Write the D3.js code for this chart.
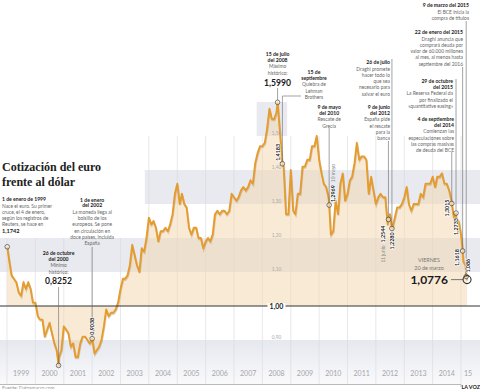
<!DOCTYPE html>
<html>
<head>
<meta charset="utf-8">
<script src="https://cdn.jsdelivr.net/npm/d3@7"></script>
<style>
body { margin: 0; background: #fff; }
svg { display: block; font-family: Lato, "Open Sans", sans-serif; }
.head { font-size: 5.1px; font-weight: 700; fill: #222; }
.body { font-size: 4.9px; fill: #666; }
</style>
</head>
<body>
<div id="vis-container"></div>
<script>
const width = 480,
    height = 389;

// cotización al 1 de cada mes, desde febrero de 1999
const monthStart = "1999-02-01";
const monthlyValues = [
  1.13, 1.09, 1.08, 1.07, 1.04, 1.03, 1.07, 1.05, 1.07, 1.05, 1.01,
  1.01, 0.97, 0.96, 0.96, 0.91, 0.93, 0.95, 0.92, 0.89, 0.87, 0.85, 0.87,
  0.94, 0.93, 0.92, 0.88, 0.89, 0.85, 0.85, 0.89, 0.91, 0.91, 0.90, 0.89,
  0.90, 0.86, 0.87, 0.88, 0.90, 0.94, 0.99, 0.97, 0.98, 0.98, 0.99, 1.01,
  1.05, 1.08, 1.08, 1.09, 1.12, 1.18, 1.15, 1.12, 1.10, 1.17, 1.16, 1.20,
  1.26, 1.24, 1.25, 1.23, 1.19, 1.22, 1.22, 1.23, 1.22, 1.24, 1.27, 1.33,
  1.36, 1.30, 1.33, 1.30, 1.29, 1.23, 1.21, 1.23, 1.23, 1.20, 1.20, 1.17,
  1.19, 1.20, 1.19, 1.21, 1.27, 1.28, 1.27, 1.28, 1.28, 1.27, 1.28, 1.33,
  1.32, 1.31, 1.32, 1.34, 1.35, 1.34, 1.35, 1.37, 1.36, 1.42, 1.45, 1.47,
  1.47, 1.48, 1.52, 1.58, 1.55, 1.55, 1.57, 1.55, 1.46, 1.41, 1.27, 1.27,
  1.40, 1.28, 1.27, 1.33, 1.33, 1.41, 1.41, 1.43, 1.43, 1.47, 1.47, 1.50,
  1.43, 1.39, 1.36, 1.35, 1.32, 1.21, 1.22, 1.31, 1.27, 1.36, 1.39, 1.31,
  1.33, 1.37, 1.38, 1.42, 1.48, 1.43, 1.44, 1.44, 1.43, 1.33, 1.38, 1.34,
  1.30, 1.32, 1.33, 1.32, 1.32, 1.24, 1.27, 1.23, 1.26, 1.29, 1.29, 1.30,
  1.32, 1.35, 1.30, 1.28, 1.30, 1.30, 1.30, 1.33, 1.32, 1.36, 1.36, 1.36,
  1.38, 1.35, 1.38, 1.38, 1.39, 1.36, 1.36, 1.34, 1.31, 1.26, 1.25, 1.25,
  1.21, 1.13, 1.12
];

// fechas señaladas
const eventDates = ["1999-01-04", "2000-10-26", "2002-01-01", "2008-07-15", "2008-09-15",
  "2010-05-10", "2012-06-11", "2012-07-26", "2014-09-04", "2014-10-29",
  "2015-01-22", "2015-03-09", "2015-03-20"];
const eventValues = [1.1742, 0.8252, 0.9038, 1.5990, 1.4183, 1.2969, 1.2544, 1.2280,
  1.3015, 1.2733, 1.1618, 1.0866, 1.0776];
const eventLabels = ["1,1742", "0,8252", "0,9038", "1,5990", "1,4183", "1,2969", "1,2544",
  "1,2280", "1,3015", "1,2733", "1,1618", "1,086", "1,0776"];
const eventNotes = ["", "", "", "", "", "10 mayo", "11 junio", "", "", "", "", "", ""];

const yearLabels = ["1999", "2000", "2001", "2002", "2003", "2004", "2005", "2006",
  "2007", "2008", "2009", "2010", "2011", "2012", "2013", "2014", "15"];
const levelTicks = [0.9, 1.1, 1.2, 1.3, 1.4, 1.5];
const levelLabels = ["0,90", "1,10", "1,20", "1,30", "1,40", "1,50"];

const bandLow = [1.1, 1.3, 1.5];
const bandStart = ["1998-10-01", "2003-11-10", "2007-10-20"];
const bandEnd = ["2016-06-01", "2016-06-01", "2008-11-15"];

const notes = [
  { ev: 0, head: ["1 de enero de 1999"], body: ["Nace el euro. Su primer", "cruce, el 4 de enero,", "según los registros de", "Reuters, se hace en"], big: "1,1742" },
  { ev: 1, head: ["26 de octubre", "del 2000"], body: ["Mínimo", "histórico:"], big: "0,8252" },
  { ev: 2, head: ["1 de enero", "del 2002"], body: ["La moneda llega al", "bolsillo de los", "europeos. Se pone", "en circulación en", "doce países, incluida", "España"] },
  { ev: 3, head: ["15 de julio", "del 2008"], body: ["Máximo", "histórico:"], big: "1,5990" },
  { ev: 4, head: ["15 de", "septiembre"], body: ["Quiebra de", "Lehman", "Brothers"] },
  { ev: 5, head: ["9 de mayo", "del 2010"], body: ["Rescate de", "Grecia"] },
  { ev: 7, head: ["26 de julio"], body: ["Draghi promete", "hacer todo lo", "que sea", "necesario para", "salvar el euro"] },
  { ev: 6, head: ["9 de junio", "del 2012"], body: ["España pide", "el rescate", "para la", "banca"] },
  { ev: 8, head: ["4 de septiembre", "del 2014"], body: ["Comienzan las", "especulaciones sobre", "las compras masivas", "de deuda del BCE"] },
  { ev: 9, head: ["29 de octubre", "del 2015"], body: ["La Reserva Federal da", "por finalizado el", "«quantitative easing»"] },
  { ev: 10, head: ["22 de enero del 2015"], body: ["Draghi anuncia que", "comprará deuda por", "valor de 60.000 millones", "al mes, al menos hasta", "septiembre del 2016"] },
  { ev: 11, head: ["9 de marzo del 2015"], body: ["El BCE inicia la", "compra de títulos"] }
];

// posición de cada bloque de texto
const noteLayout = [
  { x: 2, anchor: "start", top: 201, bigSize: 5.6, bigGap: 7, stem: null },
  { x: null, anchor: "middle", top: 255, bigSize: 8.6, bigGap: 10, stem: 287 },
  { x: null, anchor: "middle", top: 201.5, stem: 247 },
  { x: null, anchor: "middle", top: 56, bigSize: 8.6, bigGap: 11.5, stem: 88 },
  { x: 314, anchor: "middle", top: 74, stem: null },
  { x: null, anchor: "middle", top: 109, stem: 128 },
  { x: 390, anchor: "end", top: 64, stem: 59 },
  { x: 390, anchor: "end", top: 109, stem: 141 },
  { x: 454, anchor: "end", top: 121, stem: 152 },
  { x: 453, anchor: "end", top: 83, stem: 79 },
  { x: 463, anchor: "end", top: 34, stem: 67 },
  { x: 469, anchor: "end", top: 7, stem: 21 }
];

// etiquetas verticales junto a cada punto
const tagLayout = {
  2: { side: "above", dx: 2, gap: 4 },
  4: { side: "above", dx: -2, gap: 3 },
  5: { side: "above", dx: 5.5, gap: 3 },
  6: { side: "below", dx: -3, gap: 6 },
  7: { side: "below", dx: 2, gap: 4 },
  8: { side: "below", dx: -3, gap: -4 },
  9: { side: "below", dx: 2, gap: 5 },
  10: { side: "below", dx: -4, gap: -2 },
  11: { side: "above", dx: 4, gap: 4 }
};

const parse = d3.utcParse("%Y-%m-%d");

const monthly = monthlyValues.map((v, i) => ({ date: d3.utcMonth.offset(parse(monthStart), i), value: v }));
const events = eventDates.map((d, i) => ({ date: parse(d), value: eventValues[i], label: eventLabels[i], note: eventNotes[i] }));
const series = monthly.concat(events).sort((a, b) => a.date - b.date);

const x = d3.scaleUtc()
    .domain([parse("1999-01-01"), parse("2015-01-01")])
    .range([7, 461]);

const y = d3.scaleLinear()
    .domain([1, 1.6])
    .range([306, 102]);

var svg = d3.select("#vis-container").append("svg")
    .attr("width", width)
    .attr("height", height);

var defs = svg.append("defs");
var grad = defs.append("linearGradient").attr("id", "lowband")
    .attr("x1", 0).attr("x2", 0).attr("y1", 0).attr("y2", 1);
grad.append("stop").attr("offset", "0%").attr("stop-color", "#e6e8ef");
grad.append("stop").attr("offset", "100%").attr("stop-color", "#fafafc");

// bandas de fondo
svg.append("g").selectAll("rect")
    .data(bandLow)
    .enter().append("rect")
    .attr("x", (d, i) => x(parse(bandStart[i])))
    .attr("width", (d, i) => x(parse(bandEnd[i])) - x(parse(bandStart[i])))
    .attr("y", d => y(d + 0.1))
    .attr("height", d => y(d) - y(d + 0.1))
    .attr("fill", "#e9eaf0");

svg.append("rect")
    .attr("x", 0).attr("width", width)
    .attr("y", y(0.9)).attr("height", 385 - y(0.9))
    .attr("fill", "url(#lowband)");

// líneas de los años
const yearStarts = d3.utcYear.range(parse("1999-01-01"), parse("2015-01-02"));
svg.append("g").selectAll("line")
    .data(yearStarts)
    .enter().append("line")
    .attr("x1", d => x(d)).attr("x2", d => x(d))
    .attr("y1", d => x(d) < 145 ? y(1.2) : y(1.5))
    .attr("y2", 384)
    .attr("stroke", "#d9d9de")
    .attr("stroke-width", 0.6);

// área y línea
var area = d3.area()
    .x(d => x(d.date))
    .y0(y(1))
    .y1(d => y(d.value));

var line = d3.line()
    .x(d => x(d.date))
    .y(d => y(d.value));

svg.append("path")
    .datum(series)
    .attr("d", area)
    .attr("fill", "#f4d6ab")
    .attr("fill-opacity", 0.5);

svg.append("path")
    .datum(series)
    .attr("d", line)
    .attr("transform", "translate(0.5,1.2)")
    .attr("fill", "none")
    .attr("stroke", "#9a6a30")
    .attr("stroke-opacity", 0.3)
    .attr("stroke-width", 1.9);

svg.append("path")
    .datum(series)
    .attr("d", line)
    .attr("fill", "none")
    .attr("stroke", "#e59c2e")
    .attr("stroke-width", 1.9)
    .attr("stroke-linejoin", "round");

// línea de la paridad
const labelX = x(parse("2008-07-01"));
svg.append("line")
    .attr("x1", 0).attr("x2", width)
    .attr("y1", y(1)).attr("y2", y(1))
    .attr("stroke", "#333").attr("stroke-width", 1);
svg.append("rect")
    .attr("x", labelX - 9).attr("y", y(1) - 3).attr("width", 18).attr("height", 6)
    .attr("fill", "#fff");
svg.append("text")
    .attr("x", labelX).attr("y", y(1) + 2.5)
    .attr("text-anchor", "middle")
    .style("font-size", "7px").style("font-weight", 700).attr("fill", "#222")
    .text("1,00");

svg.append("g").selectAll("text")
    .data(levelTicks)
    .enter().append("text")
    .attr("x", labelX)
    .attr("y", d => y(d) - 1)
    .attr("text-anchor", "middle")
    .style("font-size", "4.8px")
    .attr("fill", "#aaa")
    .text((d, i) => levelLabels[i]);

// eje inferior
svg.append("path")
    .attr("d", "M0," + 384.5 + "H" + x(parse("2015-01-01")) + "v2.5")
    .attr("fill", "none").attr("stroke", "#aaa").attr("stroke-width", 0.8);

svg.append("g").selectAll("text")
    .data(yearLabels)
    .enter().append("text")
    .attr("x", (d, i) => {
      const a = x(yearStarts[i]);
      return i < 16 ? (a + x(yearStarts[i + 1])) / 2 : a + 7;
    })
    .attr("y", 376)
    .attr("text-anchor", "middle")
    .style("font-size", "7px")
    .attr("fill", "#a5a5aa")
    .text(d => d);

// anotaciones
var ann = svg.append("g");

notes.forEach((n, i) => {
  const L = noteLayout[i];
  const ev = events[n.ev];
  const ex = x(ev.date);
  const tx = L.x != null ? L.x : ex;
  const g = ann.append("g").attr("text-anchor", L.anchor);
  let yy = L.top;
  n.head.forEach(t => {
    g.append("text").attr("class", "head").attr("x", tx).attr("y", yy).text(t);
    yy += 5.6;
  });
  yy += 1.2;
  n.body.forEach(t => {
    g.append("text").attr("class", "body").attr("x", tx).attr("y", yy).text(t);
    yy += 6.2;
  });
  if (n.big) {
    g.append("text")
      .attr("x", tx).attr("y", yy - 6.2 + L.bigGap)
      .style("font-size", L.bigSize + "px").style("font-weight", 700).attr("fill", "#1a1a1a")
      .text(n.big);
  }
  if (L.stem != null) {
    ann.append("line")
      .attr("x1", ex).attr("x2", ex)
      .attr("y1", L.stem).attr("y2", y(ev.value) - 2.4)
      .attr("stroke", "#666").attr("stroke-width", 0.6);
  }
});

// Lehman: conector en codo
const lehman = events[4];
ann.append("path")
    .attr("d", "M301,96H" + x(lehman.date) + "V" + (y(lehman.value) - 2.4))
    .attr("fill", "none").attr("stroke", "#666").attr("stroke-width", 0.6);

// etiquetas giradas
Object.keys(tagLayout).forEach(k => {
  const T = tagLayout[k];
  const ev = events[+k];
  const cx = x(ev.date) + T.dx, cy = y(ev.value);
  const ay = T.side === "above" ? cy - T.gap : cy + T.gap;
  const t = ann.append("text")
    .attr("transform", "translate(" + cx + "," + ay + ") rotate(-90)")
    .attr("text-anchor", T.side === "above" ? "start" : "end")
    .style("font-size", "5.4px").style("font-weight", 700).attr("fill", "#1a1a1a")
    .attr("stroke", "#fff").attr("stroke-width", 1.2).attr("paint-order", "stroke")
    .text(ev.label);
  if (ev.note) {
    const len = t.node().getComputedTextLength();
    const ny = T.side === "above" ? ay - len - 3 : ay + len + 3;
    ann.append("text")
      .attr("transform", "translate(" + cx + "," + ny + ") rotate(-90)")
      .attr("text-anchor", T.side === "above" ? "start" : "end")
      .style("font-size", "4.8px").attr("fill", "#888")
      .text(ev.note);
  }
});

// puntos
ann.selectAll("circle.ev")
    .data(events.slice(0, 12))
    .enter().append("circle")
    .attr("class", "ev")
    .attr("cx", d => x(d.date))
    .attr("cy", d => y(d.value))
    .attr("r", 2.3)
    .attr("fill", "#fff").attr("fill-opacity", 0.5)
    .attr("stroke", "#444").attr("stroke-width", 0.7);

// último dato
const last = events[12];
ann.append("text").attr("x", 429).attr("y", 262).attr("text-anchor", "middle")
    .style("font-size", "5.4px").attr("fill", "#777").text("VIERNES");
ann.append("text").attr("x", 429).attr("y", 270).attr("text-anchor", "middle")
    .style("font-size", "5.4px").attr("fill", "#777").text("20 de marzo");
ann.append("text").attr("x", 448).attr("y", y(last.value) + 4.3).attr("text-anchor", "end")
    .style("font-size", "12px").style("font-weight", 700).attr("fill", "#1a1a1a").text(last.label);
ann.append("line")
    .attr("x1", 451).attr("x2", x(last.date) - 4)
    .attr("y1", y(last.value)).attr("y2", y(last.value))
    .attr("stroke", "#444").attr("stroke-width", 0.7);
ann.append("circle")
    .attr("cx", x(last.date)).attr("cy", y(last.value)).attr("r", 4)
    .attr("fill", "none").attr("stroke", "#333").attr("stroke-width", 1.1);

// título
svg.append("text").attr("x", 2).attr("y", 171)
    .style("font-family", "'Liberation Serif', serif").style("font-size", "12px").style("font-weight", 700)
    .attr("fill", "#222").text("Cotización del euro");
svg.append("text").attr("x", 2).attr("y", 186)
    .style("font-family", "'Liberation Serif', serif").style("font-size", "12px").style("font-weight", 700)
    .attr("fill", "#222").text("frente al dólar");

svg.append("text").attr("x", 2).attr("y", 389.5)
    .style("font-size", "4.8px").attr("fill", "#999").text("Fuente: Datosmacro.com");
svg.append("text").attr("x", 480).attr("y", 389).attr("text-anchor", "end")
    .style("font-size", "5.4px").style("font-weight", 700).attr("fill", "#222").text("LA VOZ");
</script>
</body>
</html>
